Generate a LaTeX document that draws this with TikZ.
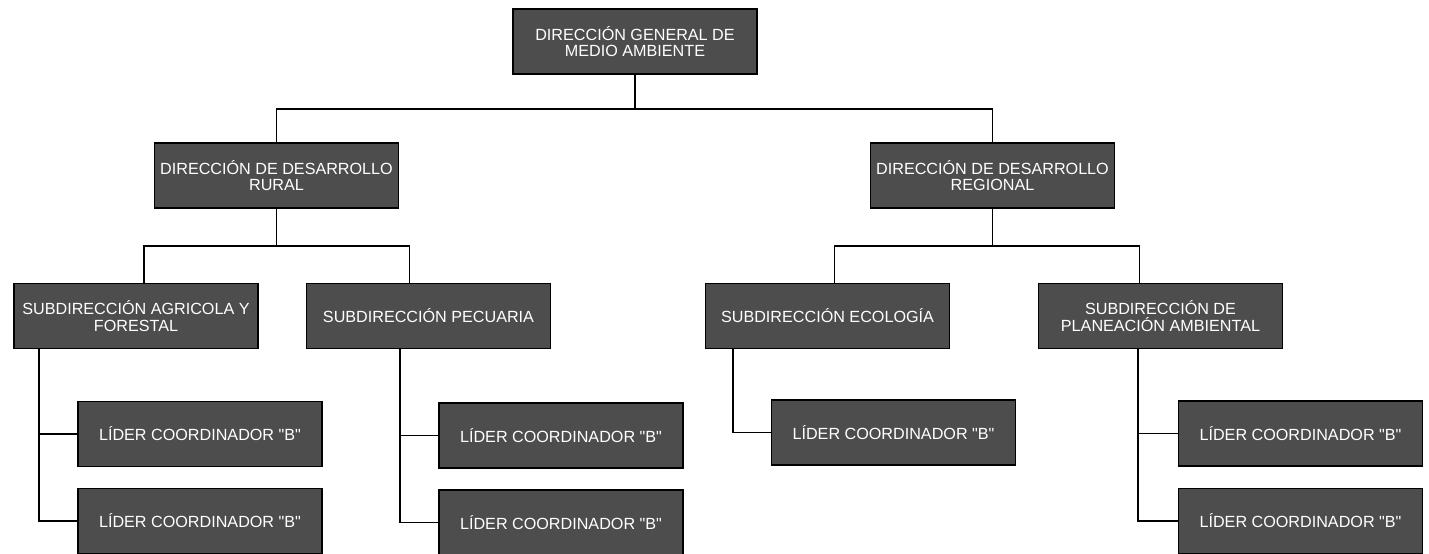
\documentclass[tikz,border=0pt]{standalone}
\usepackage{fontspec}
\setmainfont{Liberation Sans}[Ligatures=TeXOff]
\usepackage{tikz}
\usetikzlibrary{positioning, calc}
\definecolor{boxgray}{HTML}{4D4D4D}

\begin{document}
\begin{tikzpicture}[x=0.02cm, y=-0.02cm,
  unitbox/.style={draw=black, line width=0.9pt, fill=boxgray, text=white,
    minimum width=4.88cm, minimum height=1.3cm, inner sep=2pt, align=center,
    font=\fontsize{9.2}{9.2}\selectfont},
  link/.style={line width=1.1pt, black}]
\useasboundingbox (0,0) rectangle (1429,554);

% top level
\node[unitbox] (dg) at (635,41.5) {DIRECCIÓN GENERAL DE\\MEDIO AMBIENTE};

% direcciones
\node[unitbox] (rural) at (276.5,175.5) {DIRECCIÓN DE DESARROLLO\\RURAL};
\node[unitbox] (regional) at (992.5,175.5) {DIRECCIÓN DE DESARROLLO\\REGIONAL};

% subdirecciones
\node[unitbox] (agri) at (136,316) {SUBDIRECCIÓN AGRICOLA Y\\FORESTAL};
\node[unitbox] (pec) at (428.5,316) {SUBDIRECCIÓN PECUARIA};
\node[unitbox] (eco) at (827.5,316) {SUBDIRECCIÓN ECOLOGÍA};
\node[unitbox] (plan) at (1160.5,316) {SUBDIRECCIÓN DE\\PLANEACIÓN AMBIENTAL};

% lideres
\node[unitbox] (a1) at (200,434) {LÍDER COORDINADOR "B"};
\node[unitbox] (a2) at (200,521) {LÍDER COORDINADOR "B"};
\node[unitbox] (p1) at (561,435.5) {LÍDER COORDINADOR "B"};
\node[unitbox] (p2) at (561,522.5) {LÍDER COORDINADOR "B"};
\node[unitbox] (e1) at (893.5,432.5) {LÍDER COORDINADOR "B"};
\node[unitbox] (l1) at (1300.5,433.5) {LÍDER COORDINADOR "B"};
\node[unitbox] (l2) at (1300.5,521) {LÍDER COORDINADOR "B"};

% upper links
\draw[link] (dg.south) -- ++(0,34) -| (rural.north);
\draw[link] (dg.south) -- ++(0,34) -| (regional.north);
\draw[link] (rural.south) -- ++(0,37) -| ($(agri.north)+(8,0)$);
\draw[link] (rural.south) -- ++(0,37) -| ($(pec.north)+(-19,0)$);
\draw[link] (regional.south) -- ++(0,37) -| ($(eco.north)+(7,0)$);
\draw[link] (regional.south) -- ++(0,37) -| ($(plan.north)+(-21,0)$);

% side links
\coordinate (ja) at ($(agri.south west)+(26,0)$);
\coordinate (jp) at ($(pec.south west)+(94,0)$);
\coordinate (je) at ($(eco.south west)+(28,0)$);
\coordinate (jl) at ($(plan.south west)+(100,0)$);
\draw[link] (ja) |- (a1.west);
\draw[link] (ja) |- (a2.west);
\draw[link] (jp) |- (p1.west);
\draw[link] (jp) |- (p2.west);
\draw[link] (je) |- (e1.west);
\draw[link] (jl) |- (l1.west);
\draw[link] (jl) |- (l2.west);
\end{tikzpicture}
\end{document}
